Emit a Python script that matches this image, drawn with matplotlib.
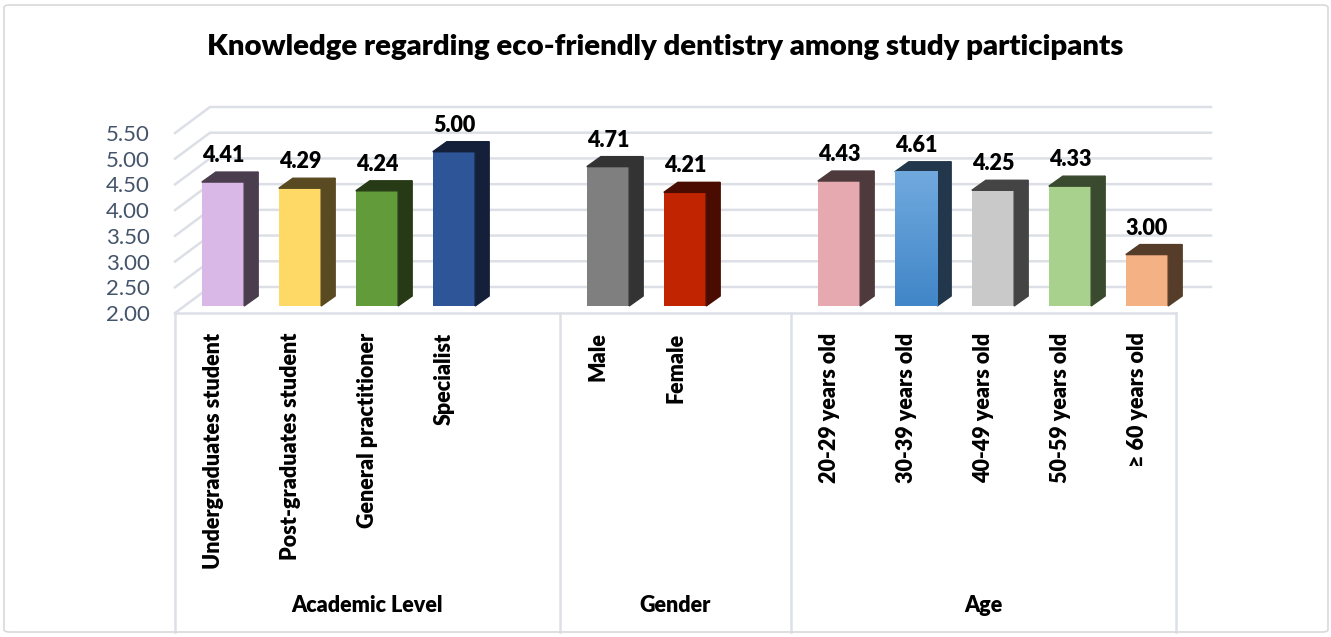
import numpy as np
import matplotlib
matplotlib.use("Agg")
import matplotlib.pyplot as plt
from matplotlib.patches import Polygon, FancyBboxPatch
from matplotlib.colors import LinearSegmentedColormap

# Datos
groups = ["Academic Level", "Gender", "Age"]
group_sizes = [4, 2, 5]
categories = ["Undergraduates student", "Post-graduates student", "General practitioner", "Specialist",
              "Male", "Female",
              "20-29 years old", "30-39 years old", "40-49 years old", "50-59 years old", "\u2265 60 years old"]
values = [4.41, 4.29, 4.24, 5.00, 4.71, 4.21, 4.43, 4.61, 4.25, 4.33, 3.00]
front_colors = ["#D9B8E8", "#FFD966", "#629B3A", "#2E5597", "#7F7F7F", "#C02400",
                "#E6A9B0", "#5B9BD5", "#C9C9C9", "#A9D18E", "#F4B183"]
dark_colors = ["#4A3D4D", "#5A4A22", "#263A16", "#141F3A", "#333333", "#4A0C00",
               "#4E3A3C", "#22364C", "#444444", "#3A4A2E", "#553D2A"]
yticks = [2.0, 2.5, 3.0, 3.5, 4.0, 4.5, 5.0, 5.5]

plt.rcParams["font.family"] = ["Lato", "DejaVu Sans"]

W, H = 1331, 637
fig = plt.figure(figsize=(W / 100, H / 100), dpi=100)
ax = fig.add_axes([175 / W, (H - 313) / H, 1001 / W, 180 / H])
ax.set_xlim(-0.5, 12.5)
ax.set_ylim(2.0, 5.5)
ux = 1001 / 13   # px por unidad x
uy = 180 / 3.5   # px por unidad y

# posiciones de las categorias con hueco entre grupos
pos = []
spans = []
start = 0
for n in group_sizes:
    pos += list(range(start, start + n))
    spans.append((start - 0.5, start + n + 0.5))
    start += n + 1
spans[-1] = (spans[-1][0], spans[-1][1] - 1)
pos = np.array(pos, dtype=float)

grid_c = "#DCE0E6"
# pared del fondo: lineas de cuadricula
wx, wy = 35 / ux, 26 / uy
for t in yticks:
    ax.plot([-0.5, -0.5 + wx, 12.5 + wx], [t, t + wy, t + wy], color=grid_c, lw=1.8,
            clip_on=False, zorder=1)
ax.plot([-0.5, 12.5], [2.0, 2.0], color=grid_c, lw=1.8, clip_on=False, zorder=1)

# barras 3D
fx, fy = 9.5 / ux, 7 / uy
dx, dy = 14 / ux, 10 / uy
w = 0.55
vals = np.array(values)
bars = ax.bar(pos + fx, vals - 2.0, bottom=2.0 + fy, width=w, color=front_colors,
              clip_on=False, zorder=3)

# degradado en la barra 30-39
b = bars[7]
cmap = LinearSegmentedColormap.from_list("az", ["#4186C8", "#70A9DE"])
im = ax.imshow(np.linspace(0, 1, 50).reshape(-1, 1), cmap=cmap, aspect="auto", origin="lower",
               extent=(b.get_x(), b.get_x() + b.get_width(), b.get_y(), b.get_y() + b.get_height()),
               zorder=3.5, clip_on=False)
im.set_clip_path(b)
ax.set_xlim(-0.5, 12.5)
ax.set_ylim(2.0, 5.5)

for x, v, dc in zip(pos + fx, vals, dark_colors):
    xl, xr = x - w / 2, x + w / 2
    bb, t = 2.0 + fy, v + fy
    ax.add_patch(Polygon([(xr, bb), (xr, t), (xr + dx, t + dy), (xr + dx, bb + dy)],
                         closed=True, color=dc, clip_on=False, zorder=3))
    ax.add_patch(Polygon([(xl, t), (xr, t), (xr + dx, t + dy), (xl + dx, t + dy)],
                         closed=True, color=dc, clip_on=False, zorder=3))
    ax.text(x, t + dy + 6 / uy, "%.2f" % v, ha="center", va="bottom",
            fontsize=15.5, fontweight="heavy", color="black", clip_on=False, zorder=4)

# ejes
for s in ax.spines.values():
    s.set_visible(False)
ax.set_yticks(yticks)
ax.set_yticklabels(["%.2f" % t for t in yticks], fontsize=16, color="#44546A")
ax.tick_params(axis="y", length=0, pad=18)
ax.set_xticks(pos)
ax.set_xticklabels(categories, rotation=90, fontsize=15.5, fontweight="heavy", va="top")
ax.tick_params(axis="x", length=0, pad=14)

# caja de categorias
tr = ax.get_xaxis_transform()
ybot = (313 - 632) / 180
for e in [spans[0][0]] + [s[1] for s in spans]:
    ax.plot([e, e], [0, ybot], color=grid_c, lw=1.8, transform=tr, clip_on=False)
for g, (a, c) in zip(groups, spans):
    ax.text((a + c) / 2, (313 - 605) / 180, g, transform=tr, ha="center", va="center",
            fontsize=15.5, fontweight="heavy")

fig.text(0.5, 1 - 47 / H, "Knowledge regarding eco-friendly dentistry among study participants",
         ha="center", va="center", fontsize=21.2, fontweight="heavy")

fig.patches.append(FancyBboxPatch((4 / W, 5 / H), 1324 / W, 627 / H,
                                  boxstyle="round,pad=0,rounding_size=0.004",
                                  transform=fig.transFigure, fill=False,
                                  edgecolor="#D9D9D9", lw=1.2))

fig.savefig("out.png", dpi=100)
